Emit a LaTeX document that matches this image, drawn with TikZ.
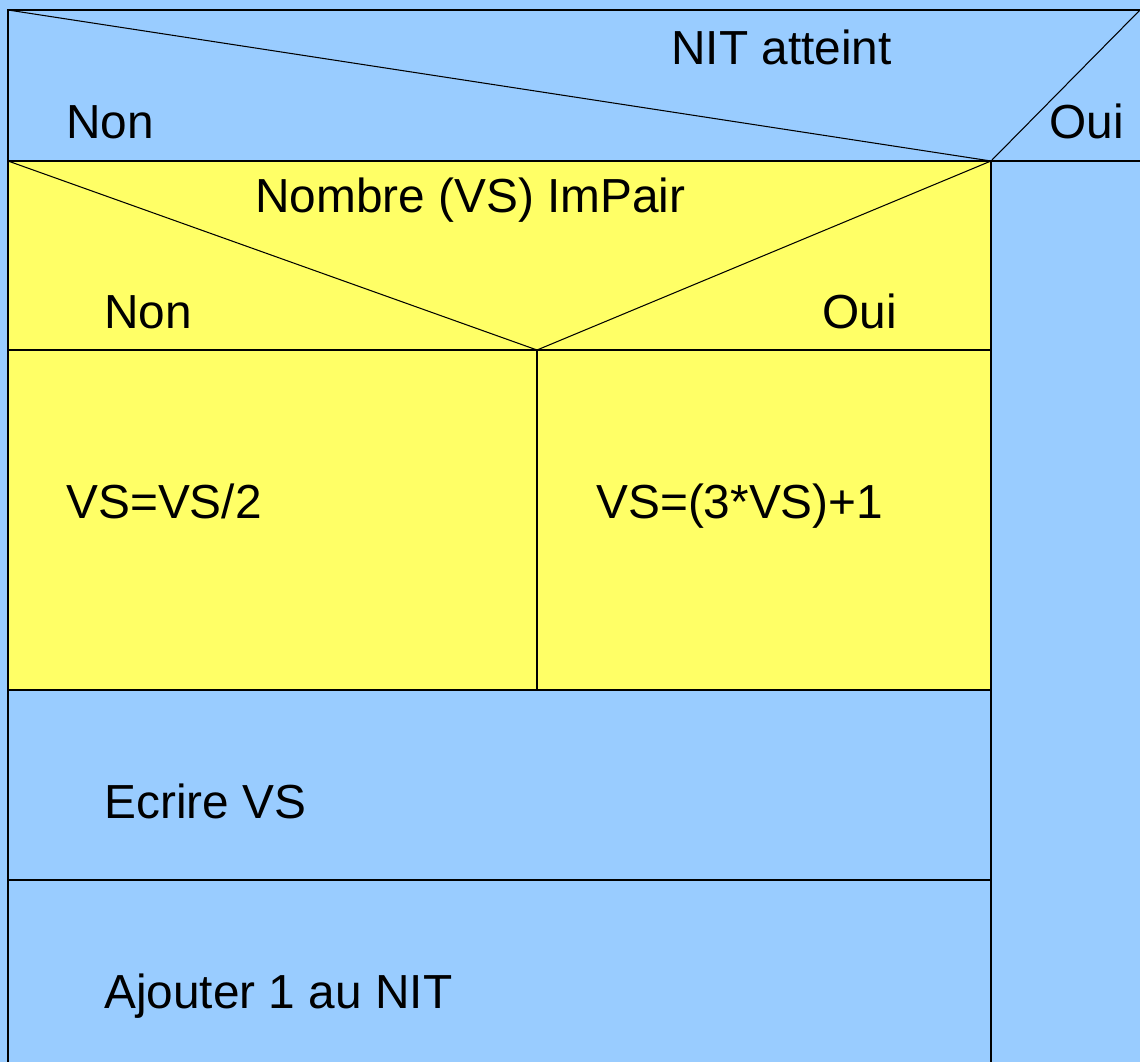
\documentclass[tikz,border=0pt]{standalone}
\usepackage{fontspec}
\setmainfont{Liberation Sans}
\definecolor{bleu}{HTML}{99CCFF}
\definecolor{jaune}{HTML}{FFFF66}
\tikzset{
  lbl/.style={inner sep=0pt,anchor=base west,font=\fontsize{27.2}{33}\selectfont},
  trait/.style={draw=black,line width=0.6pt}
}

\begin{document}
\begin{tikzpicture}[x=0.02cm,y=-0.02cm]
    \useasboundingbox (0,0) rectangle (1140,1062);
    % fonds
    \fill[bleu] (0,0) rectangle (1140,1062);
    \fill[jaune] (8,161) rectangle (991,690);
    % points de la structure
    \coordinate (hg) at (8,10);
    \coordinate (hd) at (1140,10);
    \coordinate (pivot) at (991,161);
    \coordinate (bd) at (1140,161);
    \coordinate (mg) at (8,161);
    \coordinate (sg) at (8,350);
    \coordinate (sm) at (537,350);
    \coordinate (sd) at (991,350);
    \coordinate (tg) at (8,690);
    \coordinate (tm) at (537,690);
    \coordinate (td) at (991,690);
    \coordinate (ug) at (8,880);
    \coordinate (ud) at (991,880);
    \coordinate (bg) at (8,1062);
    \coordinate (bp) at (991,1062);
    % cadres
    \draw[trait] (hd) -- (hg) -- (bg);
    \draw[trait] (hg) -- (pivot) -- (hd);
    \draw[trait] (mg) -- (bd);
    \draw[trait] (pivot) -- (bp);
    \draw[trait] (mg) -- (sm) -- (pivot);
    \draw[trait] (sg) -- (sd);
    \draw[trait] (sm) -- (tm);
    \draw[trait] (tg) -- (td);
    \draw[trait] (ug) -- (ud);
    % textes
    \node[lbl] (nit) at (671,64) {NIT atteint};
    \node[lbl] (non1) at (66,138) {Non};
    \node[lbl] (oui1) at (1049,138) {Oui};
    \node[lbl] (test) at (255,212) {Nombre (VS) ImPair};
    \node[lbl] (non2) at (104,328) {Non};
    \node[lbl] (oui2) at (822,328) {Oui};
    \node[lbl] (pair) at (66,518) {VS=VS/2};
    \node[lbl] (impair) at (596,518) {VS=(3*VS)+1};
    \node[lbl] (ecrire) at (104,818) {Ecrire VS};
    \node[lbl] (ajout) at (104,1008) {Ajouter 1 au NIT};
\end{tikzpicture}
\end{document}
